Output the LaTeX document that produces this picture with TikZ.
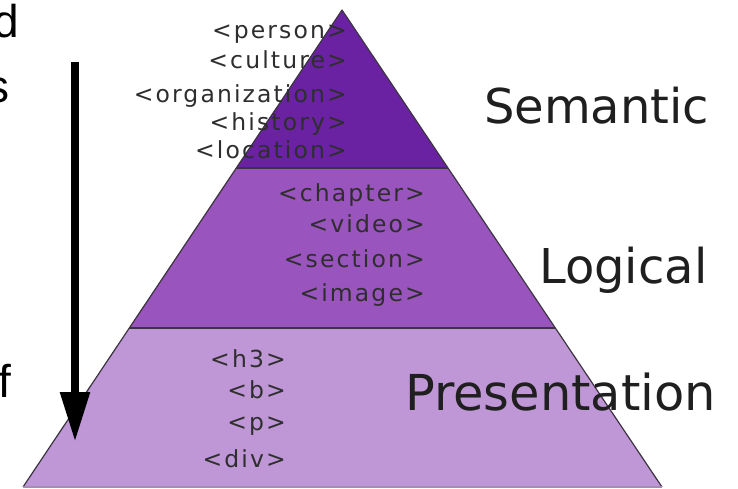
\documentclass[tikz,border=0pt]{standalone}
\usepackage{fontspec}
\setmainfont{DejaVu Sans}
\newfontfamily\tagfont{DejaVu Sans}[LetterSpace=9]
\newfontfamily\fragfont{Liberation Sans}
\usetikzlibrary{arrows.meta}
\definecolor{semcol}{HTML}{6A22A2}
\definecolor{logcol}{HTML}{9A54BD}
\definecolor{precol}{HTML}{BF96D6}
\definecolor{edgecol}{HTML}{3C3440}
\begin{document}
\begin{tikzpicture}[x=1pt,y=-1pt,
  tag/.style={anchor=base east, inner sep=0pt, font=\tagfont\fontsize{23.5}{23.5}\selectfont, text=black!82},
  layer/.style={anchor=base west, inner sep=0pt, font=\fontsize{48}{48}\selectfont, text=black!88},
  frag/.style={anchor=base west, inner sep=0pt, font=\fragfont\fontsize{46}{46}\selectfont},
  band/.style={draw=edgecol, line width=1.2pt, line join=round},
  divider/.style={draw=edgecol, line width=1.8pt}]
\useasboundingbox (0,0) rectangle (738,488);
\fill[white] (0,0) rectangle (738,488);

% pyramid corners and band boundaries
\coordinate (apex) at (342,10);
\coordinate (sl) at (236,168);
\coordinate (sr) at (448,168);
\coordinate (ll) at (129,328);
\coordinate (lr) at (555,328);
\coordinate (bl) at (23,487);
\coordinate (br) at (662,487);

% three bands
\fill[precol] (ll) -- (lr) -- (br) -- (bl) -- cycle;
\fill[logcol] (sl) -- (sr) -- (lr) -- (ll) -- cycle;
\fill[semcol] (apex) -- (sr) -- (sl) -- cycle;
\draw[band] (bl) -- (apex) -- (br);
\draw[band, draw=precol!60!gray] (bl) -- (br);
\draw[divider] (sl) -- (sr);
\draw[divider] (ll) -- (lr);

% clipped words at the left margin
\node[frag] (fragd) at (-7,37) {d};
\node[frag] (frags) at (-14,102) {s};
\node[frag] (fragf) at (-2,397) {f};

% downward arrow
\coordinate (arrtop) at (75,62);
\coordinate (arrtip) at (75,442);
\draw[line width=8.5pt, -{Triangle[width=28pt,length=50pt]}] (arrtop) -- (arrtip);

% semantic tags
\node[tag] (tperson) at (347,38) {<person>};
\node[tag] (tculture) at (347,68) {<culture>};
\node[tag] (torg) at (347,102) {<organization>};
\node[tag] (thistory) at (347,130) {<history>};
\node[tag] (tlocation) at (347,158) {<location>};

% logical tags
\node[tag] (tchapter) at (425,201) {<chapter>};
\node[tag] (tvideo) at (425,232) {<video>};
\node[tag] (tsection) at (425,267) {<section>};
\node[tag] (timage) at (425,301) {<image>};

% presentation tags
\node[tag] (th3) at (286,367) {<h3>};
\node[tag] (tb) at (286,398) {<b>};
\node[tag] (tp) at (286,430) {<p>};
\node[tag] (tdiv) at (286,467) {<div>};

% layer names
\node[layer] (lsem) at (484,123) {Semantic};
\node[layer] (llog) at (539,283) {Logical};
\node[layer, font=\fontsize{49.5}{49.5}\selectfont] (lpre) at (405,410) {Presentation};
\end{tikzpicture}
\end{document}
